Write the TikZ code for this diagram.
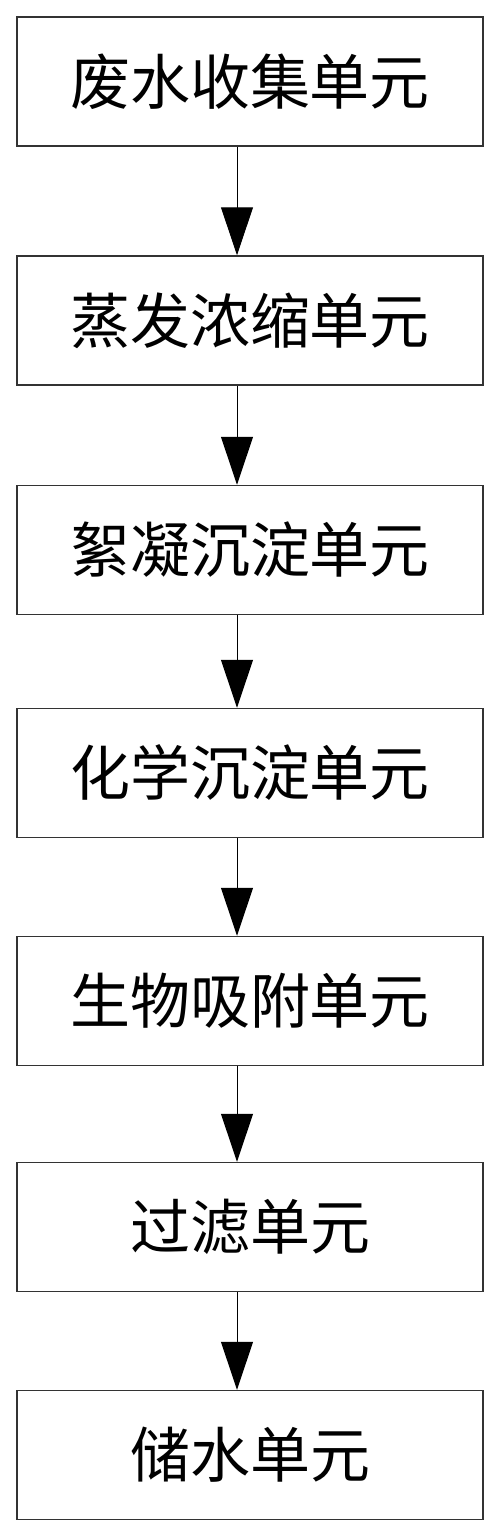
\documentclass[tikz,border=0pt]{standalone}
\usepackage{fontspec}
\newfontfamily\cjk{Noto Sans CJK SC}
\usepackage{tikz}
\usetikzlibrary{arrows.meta}

\tikzset{
  unitbox/.style={draw=black!80, line width=1.5pt, minimum width=466pt,
    minimum height=129pt, inner sep=0pt, font=\cjk\fontsize{60}{60}\selectfont},
  flow/.style={line width=1pt, -{Triangle[width=32pt, length=48pt]}}
}

\begin{document}
\begin{tikzpicture}[x=1pt, y=-1pt]
  \useasboundingbox (0,0) rectangle (500,1537);
  \foreach \t/\y [count=\i] in {废水收集单元/81.5, 蒸发浓缩单元/320.5,
                                絮凝沉淀单元/550, 化学沉淀单元/773,
                                生物吸附单元/1001, 过滤单元/1227,
                                储水单元/1455}{
    \node[unitbox] (u\i) at (250,\y) {\t};}
  \foreach \i [evaluate=\i as \j using int(\i+1)] in {1,...,6}{
    \draw[flow] ([xshift=-13pt]u\i.south) -- ([xshift=-13pt]u\j.north);}
\end{tikzpicture}
\end{document}
